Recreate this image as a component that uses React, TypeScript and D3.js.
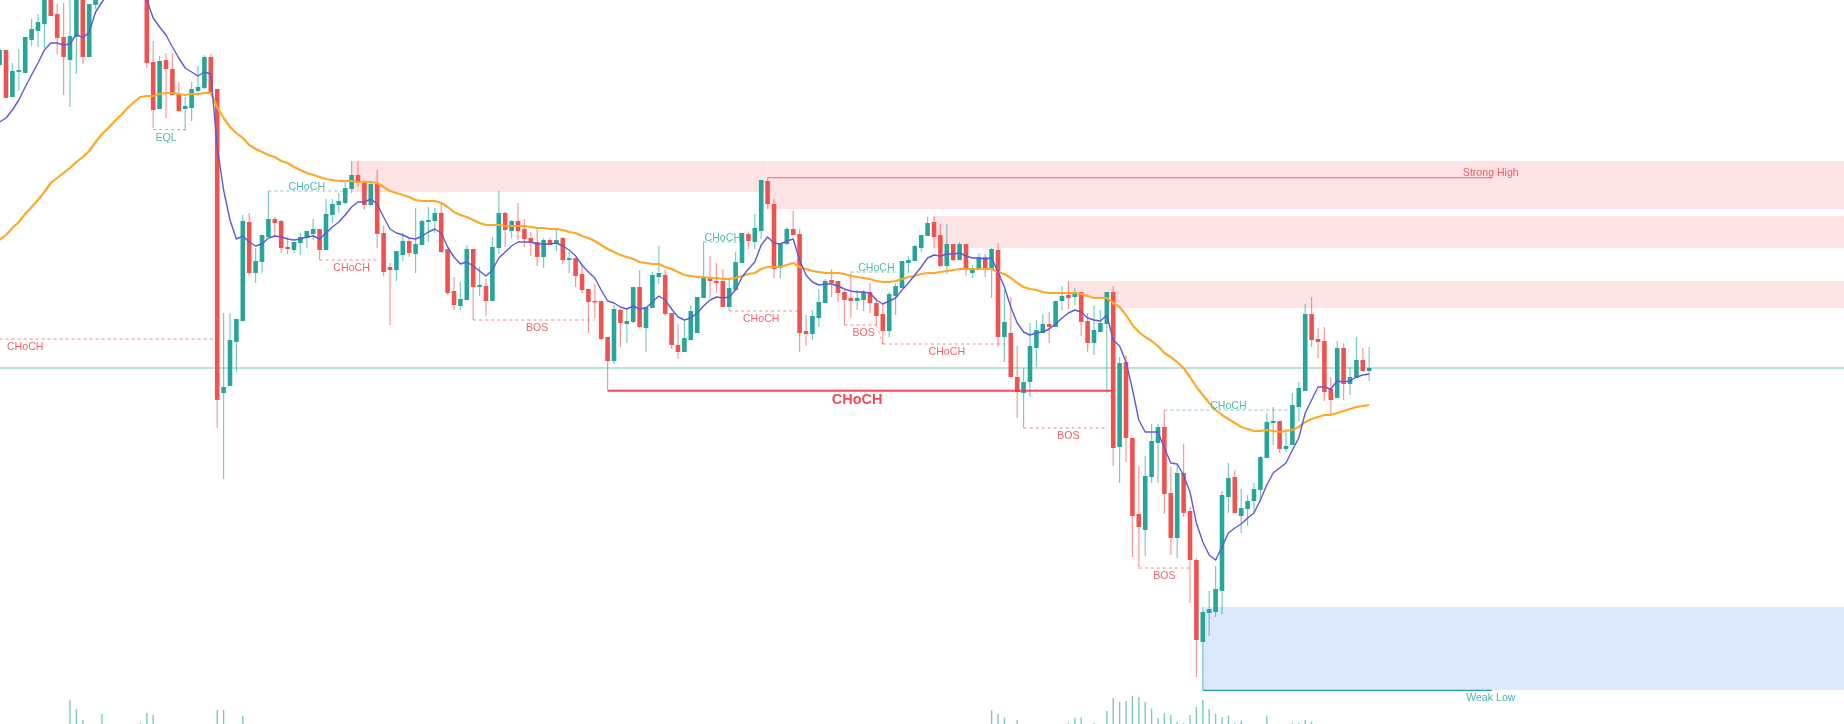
import React from 'react';
import * as d3 from 'd3';

const WIDTH = 1844;
const HEIGHT = 724;

// OHLC per bar. Bars 16-22 are above the visible frame, so they stay null.
const opens: (number | null)[] = [
  659, 674, 627, 652, 651, 684, 693, 700, 728, 710,
  687, 664, 687, 727, 667, 719, null, null, null, null,
  null, null, null, 729, 662, 615, 664, 655, 630, 615,
  616, 633, 636, 667, 635, 331, 338, 382, 403, 502,
  451, 462, 487, 505, 503, 477, 474, 481, 486, 490,
  495, 474, 509, 519, 521, 535, 549, 542, 519, 540,
  491, 457, 454, 469, 483, 470, 479, 502, 503, 511,
  475, 433, 418, 424, 475, 437, 438, 423, 476, 511,
  493, 503, 495, 486, 482, 467, 484, 480, 486, 464,
  466, 450, 435, 423, 423, 387, 363, 414, 400, 402,
  437, 396, 416, 447, 449, 411, 379, 372, 384, 391,
  426, 446, 443, 443, 417, 434, 461, 490, 482, 493,
  543, 520, 456, 480, 495, 490, 393, 390, 406, 421,
  444, 443, 432, 426, 423, 424, 432, 421, 410, 393,
  428, 436, 461, 463, 476, 488, 502, 489, 458, 480,
  464, 480, 451, 455, 467, 455, 474, 387, 391, 347,
  331, 342, 376, 391, 400, 397, 423, 429, 427, 432,
  403, 381, 392, 400, 432, 277, 362, 286, 210, 194,
  247, 281, 297, 231, 186, 251, 213, 164, 82, 111,
  112, 133, 227, 247, 208, 215, 223, 234, 266, 301,
  303, 275, 279, 317, 333, 410, 385, 383, 335, 326,
  376, 340, 346, 364, 353,
];
const highs: (number | null)[] = [
  676, 674, 661, 675, 687, 705, 710, 730, 732, 720,
  721, 728, 730, 730, 720, 729, null, null, null, null,
  null, null, null, 732, 683, 668, 671, 671, 642, 627,
  642, 658, 669, 670, 635, 411, 411, 405, 509, 511,
  476, 489, 533, 507, 504, 487, 482, 491, 493, 505,
  495, 525, 525, 531, 544, 563, 563, 544, 542, 554,
  498, 461, 473, 491, 486, 516, 504, 517, 516, 520,
  475, 447, 442, 479, 475, 457, 445, 487, 533, 512,
  504, 521, 505, 492, 496, 486, 486, 494, 487, 472,
  466, 459, 435, 440, 423, 387, 419, 415, 415, 437,
  454, 417, 452, 478, 454, 411, 400, 404, 419, 427,
  482, 468, 461, 455, 445, 472, 491, 492, 510, 544,
  546, 525, 481, 497, 513, 495, 409, 414, 435, 445,
  455, 443, 434, 451, 434, 434, 441, 426, 420, 432,
  441, 463, 468, 479, 489, 507, 508, 500, 500, 480,
  482, 480, 459, 471, 470, 476, 481, 434, 427, 378,
  356, 401, 404, 410, 412, 423, 438, 443, 436, 432,
  411, 418, 414, 432, 438, 367, 369, 286, 258, 268,
  300, 300, 314, 257, 260, 280, 217, 166, 117, 133,
  158, 233, 261, 254, 235, 229, 241, 268, 311, 317,
  303, 295, 331, 342, 420, 427, 396, 397, 347, 383,
  381, 357, 387, 376, 377,
];
const lows: (number | null)[] = [
  656, 626, 627, 633, 651, 678, 677, 676, 708, 670,
  629, 617, 650, 660, 667, 715, null, null, null, null,
  null, null, null, 656, 596, 615, 606, 629, 612, 593,
  603, 628, 635, 631, 296, 245, 338, 352, 403, 449,
  441, 451, 487, 488, 471, 470, 471, 469, 476, 484,
  464, 474, 501, 511, 520, 531, 537, 514, 518, 476,
  448, 399, 443, 463, 467, 451, 479, 482, 491, 471,
  429, 414, 414, 424, 404, 428, 408, 423, 470, 477,
  486, 484, 477, 468, 458, 456, 479, 473, 460, 451,
  437, 431, 391, 406, 384, 334, 360, 377, 381, 401,
  396, 372, 416, 440, 408, 375, 365, 372, 384, 391,
  426, 426, 431, 417, 413, 434, 461, 475, 475, 485,
  515, 446, 446, 479, 489, 372, 378, 384, 397, 421,
  427, 422, 399, 406, 414, 413, 411, 399, 380, 387,
  409, 436, 451, 463, 472, 488, 476, 457, 450, 463,
  464, 448, 446, 455, 447, 426, 377, 362, 347, 306,
  296, 327, 357, 391, 381, 397, 414, 415, 419, 388,
  372, 369, 392, 331, 258, 241, 262, 167, 157, 168,
  241, 241, 210, 169, 166, 207, 121, 47, 34, 88,
  107, 110, 211, 211, 191, 198, 211, 222, 266, 279,
  271, 272, 279, 303, 333, 377, 366, 323, 309, 326,
  324, 329, 346, 352, 343,
];
const closes: (number | null)[] = [
  674, 626, 653, 654, 687, 695, 702, 727, 708, 686,
  667, 688, 727, 667, 720, 726, null, null, null, null,
  null, null, null, 661, 614, 663, 655, 629, 613, 618,
  635, 637, 667, 632, 324, 337, 384, 405, 503, 451,
  463, 489, 505, 501, 476, 475, 482, 487, 493, 495,
  474, 510, 520, 523, 536, 549, 541, 519, 540, 490,
  452, 454, 473, 483, 471, 480, 503, 504, 511, 472,
  431, 419, 425, 475, 437, 439, 423, 477, 511, 494,
  503, 493, 485, 481, 467, 484, 479, 484, 464, 466,
  448, 434, 422, 422, 385, 363, 415, 401, 403, 437,
  397, 417, 449, 451, 410, 379, 372, 386, 413, 427,
  447, 443, 441, 417, 436, 462, 491, 483, 496, 544,
  520, 455, 481, 495, 489, 391, 390, 408, 422, 443,
  441, 431, 424, 423, 426, 432, 421, 408, 393, 430,
  438, 463, 464, 478, 489, 501, 487, 458, 480, 464,
  480, 454, 456, 467, 455, 475, 387, 402, 347, 332,
  342, 378, 394, 400, 397, 423, 428, 426, 432, 402,
  381, 394, 401, 432, 276, 361, 286, 208, 197, 248,
  283, 297, 230, 186, 251, 211, 164, 84, 112, 115,
  135, 229, 246, 211, 216, 223, 235, 267, 302, 303,
  275, 278, 319, 336, 410, 384, 382, 332, 324, 376,
  340, 347, 364, 353, 356,
];

// fast average, gap where it runs above the frame (bars 18-21)
const fastMa: (number | null)[] = [
  602, 606, 614, 624, 637, 649, 661, 674, 681, 681,
  679, 680, 690, 686, 692, 712, 722, 730, null, null,
  null, null, 730, 724, 706, 697, 689, 677, 666, 656,
  652, 648, 652, 650, 577, 534, 504, 485, 488, 482,
  478, 480, 486, 488, 487, 485, 484, 485, 487, 488,
  485, 491, 497, 502, 509, 517, 522, 522, 525, 520,
  507, 495, 491, 489, 486, 485, 488, 492, 495, 491,
  477, 467, 460, 462, 458, 453, 448, 454, 466, 472,
  478, 482, 482, 482, 480, 480, 480, 481, 478, 474,
  468, 459, 452, 446, 434, 423, 421, 417, 415, 418,
  415, 416, 422, 428, 424, 415, 407, 404, 406, 411,
  418, 424, 427, 426, 427, 434, 447, 455, 462, 479,
  487, 481, 480, 483, 485, 464, 449, 442, 439, 440,
  440, 438, 435, 433, 432, 432, 431, 424, 420, 423,
  426, 434, 441, 449, 457, 466, 469, 468, 470, 470,
  471, 468, 466, 466, 465, 466, 452, 437, 417, 401,
  392, 389, 391, 392, 395, 400, 406, 411, 414, 412,
  406, 404, 403, 409, 384, 378, 362, 335, 304, 292,
  292, 292, 276, 261, 260, 249, 232, 201, 182, 169,
  164, 177, 191, 196, 200, 206, 211, 224, 239, 251,
  256, 261, 274, 286, 311, 324, 337, 337, 335, 343,
  342, 343, 347, 349, 350,
];
const slowMa: number[] = [
  484, 489, 496, 502, 510, 517, 524, 532, 541, 546,
  551, 556, 562, 567, 573, 582, 590, 596, 603, 609,
  616, 622, 627, 628, 628, 630, 631, 631, 630, 629,
  630, 630, 631, 631, 617, 606, 597, 591, 586, 579,
  575, 572, 569, 567, 563, 561, 557, 554, 551, 549,
  547, 545, 544, 543, 543, 543, 542, 542, 542, 541,
  537, 533, 531, 529, 527, 524, 523, 523, 523, 521,
  517, 512, 509, 507, 504, 501, 499, 499, 499, 498,
  498, 498, 498, 497, 496, 496, 495, 495, 494, 492,
  491, 488, 486, 483, 479, 475, 472, 469, 467, 465,
  462, 461, 460, 460, 457, 455, 452, 449, 448, 447,
  447, 446, 446, 445, 445, 446, 448, 450, 451, 455,
  457, 457, 457, 459, 461, 457, 455, 453, 452, 451,
  451, 451, 450, 448, 447, 446, 445, 443, 442, 442,
  443, 445, 447, 448, 450, 451, 451, 452, 453, 454,
  455, 455, 455, 455, 455, 455, 452, 450, 446, 441,
  437, 435, 434, 432, 431, 431, 431, 431, 431, 430,
  428, 426, 426, 426, 421, 417, 409, 399, 392, 387,
  383, 378, 371, 367, 362, 356, 347, 337, 329, 321,
  314, 309, 305, 301, 297, 295, 293, 293, 294, 293,
  292, 293, 294, 297, 302, 305, 307, 309, 309, 311,
  313, 315, 317, 318, 319,
];

// volume pane, only the bars that poke up into the frame
const volumeBars = [11, 12, 13, 16, 22, 23, 24, 34, 35, 38, 155, 156, 157, 159, 167, 168, 169, 171, 173, 174, 175, 176, 177, 178, 179, 180, 181, 182, 183, 184, 185, 186, 187, 188, 189, 190, 191, 192, 193, 194, 198, 202, 203, 204, 205];
const volumeValues = [24, 15, 4, 10, 1, 11, 9, 14, 14, 8, 14, 10, 6.5, 4, 1, 6, 6.5, 1, 13, 26, 22, 23, 28, 27, 22, 15.4, 6, 11, 9, 2, 1, 9, 17, 24, 15, 10, 7, 8.5, 1, 3.4, 8.5, 1, 1, 4, 2];

// supply / demand zones. zoneEnd null = runs off the right side
const zoneStart = [55, 120, 146, 167, 174, 188];
const zoneEnd = [120, null, null, 174, null, null];
const zoneTop = [563, 563, 508, 443, 443, 117];
const zoneBottom = [532, 515, 476, 427, 416, 34];
const zoneKind = ['supply', 'supply', 'supply', 'supply', 'supply', 'demand'];

// dashed structure breaks
const breakLabels = ['CHoCH', 'EQL', 'CHoCH', 'CHoCH', 'BOS', 'CHoCH', 'CHoCH', 'CHoCH', 'BOS', 'CHoCH', 'BOS', 'CHoCH', 'BOS'];
const breakStart = [0, 24, 42, 50, 74, 110, 114, 133, 132, 138, 160, 182, 178];
const breakEnd = [33.5, 29, 54, 59, 93, 116, 125, 140, 137, 157, 173, 202, 186];
const breakLevel = [385, 594.5, 533, 464, 404, 482, 413, 452, 399, 380, 296, 314, 156];
const breakTextBar = [4, 26, 48, 55, 84, 113, 119, 137, 135, 148, 167, 192, 182];
const breakColor = ['red', 'green', 'green', 'red', 'red', 'green', 'red', 'green', 'red', 'red', 'red', 'green', 'red'];
const breakTextSide = [1, 1, -1, 1, 1, -1, 1, -1, 1, 1, 1, -1, 1];

const strongHighLevel = 546.3;
const weakLowLevel = 33.6;
const majorChochLevel = 333.3;

const GREEN = '#26a69a';
const RED = '#ef5350';
const LABEL_RED = '#f23645';

const x = d3.scaleLinear().domain([0, 214]).range([-0.4, 1369.2]);
const y = d3.scaleLinear().domain([0, 724]).range([HEIGHT, 0]);
const vol = d3.scaleLinear().domain([0, 30]).range([HEIGHT, HEIGHT - 30]);

const maLine = d3
  .line<number | null>()
  .defined((d) => d !== null)
  .x((_, i) => x(i))
  .y((d) => y(d as number));

const sans = '"Liberation Sans", Arial, sans-serif';

export default function App() {
  const lastClose = closes[closes.length - 1] as number;
  const bars = opens
    .map((o, i) => ({ i, o, h: highs[i], l: lows[i], c: closes[i] }))
    .filter((d) => d.o !== null) as { i: number; o: number; h: number; l: number; c: number }[];

  return (
    <svg
      width={WIDTH}
      height={HEIGHT}
      style={{ position: 'absolute', left: 0, top: 0, background: '#fff', filter: 'blur(0.35px)' }}
      fontFamily={sans}
    >
      {zoneStart.map((s, i) => {
        const end = zoneEnd[i];
        const left = x(s);
        const right = end === null ? WIDTH : x(end);
        return (
          <rect
            key={i}
            x={left}
            y={y(zoneTop[i])}
            width={right - left}
            height={y(zoneBottom[i]) - y(zoneTop[i])}
            fill={zoneKind[i] === 'supply' ? '#fde3e4' : '#dce8fb'}
          />
        );
      })}

      <line x1={0} x2={WIDTH} y1={y(lastClose)} y2={y(lastClose)} stroke={GREEN} strokeOpacity={0.65} strokeWidth={1.2} />

      {volumeBars.map((b, i) => (
        <line key={i} x1={x(b)} x2={x(b)} y1={vol(0)} y2={vol(volumeValues[i])} stroke={GREEN} strokeOpacity={0.6} strokeWidth={1.4} />
      ))}

      {breakStart.map((s, i) => (
        <line
          key={i}
          x1={x(s)}
          x2={x(breakEnd[i])}
          y1={y(breakLevel[i])}
          y2={y(breakLevel[i])}
          stroke={breakColor[i] === 'red' ? LABEL_RED : GREEN}
          strokeOpacity={0.6}
          strokeWidth={1.1}
          strokeDasharray="3 3"
        />
      ))}
      <line x1={x(137)} x2={x(138)} y1={y(399)} y2={y(380)} stroke={LABEL_RED} strokeOpacity={0.5} strokeWidth={1} strokeDasharray="3 3" />

      {bars.map((d) => (
        <g key={d.i}>
          <line
            x1={x(d.i)}
            x2={x(d.i)}
            y1={y(d.h)}
            y2={y(d.l)}
            stroke={d.c >= d.o ? GREEN : RED}
            strokeOpacity={0.6}
            strokeWidth={1.2}
          />
          <rect
            x={x(d.i) - 2.3}
            y={y(Math.max(d.o, d.c))}
            width={4.6}
            height={Math.max(1.5, Math.abs(y(d.o) - y(d.c)))}
            fill={d.c >= d.o ? GREEN : RED}
          />
        </g>
      ))}

      <line x1={x(120)} x2={x(233.2)} y1={y(strongHighLevel)} y2={y(strongHighLevel)} stroke={LABEL_RED} strokeOpacity={0.75} strokeWidth={1.1} />
      <line x1={x(188)} x2={x(233.2)} y1={y(weakLowLevel)} y2={y(weakLowLevel)} stroke={GREEN} strokeWidth={1.2} />
      <line x1={x(95)} x2={x(174)} y1={y(majorChochLevel)} y2={y(majorChochLevel)} stroke={LABEL_RED} strokeOpacity={0.9} strokeWidth={2} />

      <path d={maLine(slowMa) as string} fill="none" stroke="#ffa726" strokeWidth={2.2} strokeLinejoin="round" />
      <path d={maLine(fastMa) as string} fill="none" stroke="#5c5bd8" strokeWidth={1.4} strokeLinejoin="round" />

      {breakLabels.map((t, i) => (
        <text
          key={i}
          x={x(breakTextBar[i])}
          y={y(breakLevel[i]) + (breakTextSide[i] > 0 ? 7 : -5)}
          textAnchor="middle"
          dominantBaseline="central"
          fontSize={10.6}
          fill={breakColor[i] === 'red' ? LABEL_RED : GREEN}
          fillOpacity={0.8}
        >
          {t}
        </text>
      ))}
      <text x={x(233)} y={y(strongHighLevel) - 5.7} textAnchor="middle" dominantBaseline="central" fontSize={10.6} fill={LABEL_RED} fillOpacity={0.8}>
        Strong High
      </text>
      <text x={x(233)} y={y(weakLowLevel) + 7} textAnchor="middle" dominantBaseline="central" fontSize={10.6} fill={GREEN} fillOpacity={0.85}>
        Weak Low
      </text>
      <text x={x(134)} y={y(majorChochLevel) + 8.5} textAnchor="middle" dominantBaseline="central" fontSize={14.5} fontWeight="bold" fill={LABEL_RED} fillOpacity={0.9}>
        CHoCH
      </text>
    </svg>
  );
}
